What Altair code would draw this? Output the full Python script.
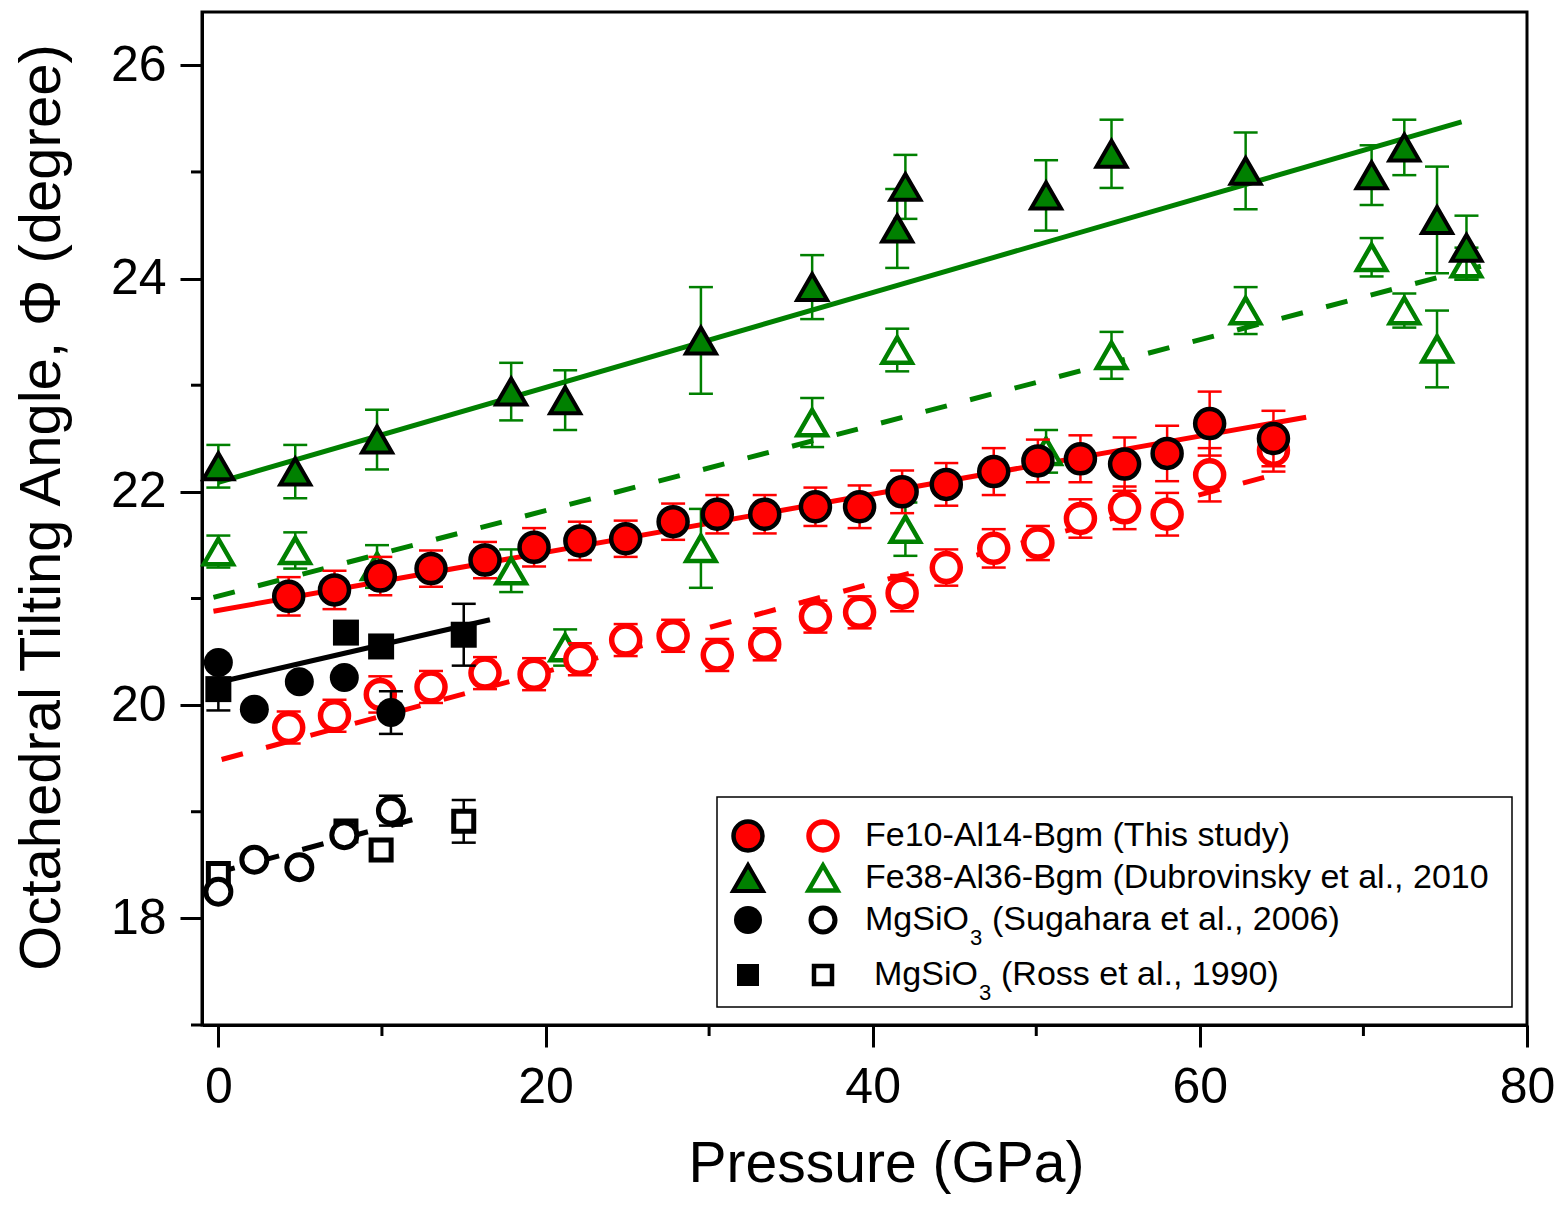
import altair as alt
import pandas as pd

FONT = "Liberation Sans, Arial, sans-serif"
RED = "#FF0000"
GREEN = "#008000"

# ---------------- data ----------------
# Fe10-Al14-Bgm (This study)
fe10_P = [4.3, 7.1, 9.9, 13.0, 16.3, 19.3, 22.1, 24.9, 27.8, 30.5, 33.4, 36.5,
          39.2, 41.8, 44.5, 47.4, 50.1, 52.7, 55.4, 58.0, 60.6, 64.5]
fe10_phi_filled = [21.02, 21.08, 21.21, 21.28, 21.36, 21.48, 21.54, 21.56, 21.72, 21.79, 21.79, 21.86,
                   21.86, 22.00, 22.07, 22.19, 22.29, 22.31, 22.26, 22.36, 22.64, 22.50]
fe10_err_filled = [0.18, 0.18, 0.18, 0.17, 0.17, 0.18, 0.18, 0.17, 0.17, 0.18, 0.18, 0.18,
                   0.20, 0.20, 0.20, 0.22, 0.20, 0.22, 0.25, 0.26, 0.30, 0.26]
fe10_phi_open = [19.79, 19.90, 20.10, 20.17, 20.30, 20.29, 20.43, 20.61, 20.65, 20.47, 20.57, 20.83,
                 20.87, 21.05, 21.29, 21.47, 21.52, 21.75, 21.85, 21.79, 22.16, 22.39]
fe10_err_open = [0.15, 0.15, 0.17, 0.15, 0.15, 0.15, 0.15, 0.15, 0.15, 0.15, 0.15, 0.15,
                 0.15, 0.17, 0.17, 0.18, 0.16, 0.18, 0.20, 0.20, 0.25, 0.20]

# Fe38-Al36-Bgm (Dubrovinsky et al., 2010)
fe38_P = [0.0, 4.7, 9.7, 17.9, 21.2, 29.5, 36.3, 41.5, 42.0, 50.6, 54.6, 62.8, 70.5, 72.5, 74.5, 76.3]
fe38_phi_filled = [22.24, 22.19, 22.49, 22.94, 22.86, 23.42, 23.92, 24.47, 24.86, 24.78, 25.17,
                   25.01, 24.97, 25.23, 24.55, 24.29]
fe38_err_filled = [0.20, 0.25, 0.28, 0.27, 0.28, 0.50, 0.30, 0.37, 0.30, 0.33, 0.32,
                   0.36, 0.28, 0.26, 0.50, 0.30]
fe38_phi_open = [21.44, 21.45, 21.30, 21.26, 20.54, 21.47, 22.65, 23.33, 21.65, 22.38, 23.28,
                 23.70, 24.20, 23.70, 23.34, 24.14]
fe38_err_open = [0.15, 0.17, 0.20, 0.20, 0.17, 0.37, 0.23, 0.20, 0.25, 0.20, 0.22,
                 0.22, 0.18, 0.16, 0.36, 0.15]

# MgSiO3 (Sugahara et al., 2006)
sug_P = [0.0, 2.2, 4.95, 7.7, 10.55]
sug_phi_filled = [20.40, 19.96, 20.22, 20.26, 19.93]
sug_err_filled = [0.0, 0.0, 0.0, 0.0, 0.20]
sug_phi_open = [18.25, 18.55, 18.48, 18.78, 19.01]
sug_err_open = [0.0, 0.0, 0.0, 0.0, 0.14]

# MgSiO3 (Ross et al., 1990)
ross_P = [0.0, 7.8, 9.95, 15.0]
ross_phi_filled = [20.15, 20.68, 20.55, 20.66]
ross_err_filled = [0.20, 0.0, 0.0, 0.29]
ross_phi_open = [18.42, 18.82, 18.64, 18.91]
ross_err_open = [0.0, 0.0, 0.0, 0.20]

# linear fits (end points)
fit_red_solid_P, fit_red_solid_phi = [-0.3, 66.5], [20.88, 22.70]
fit_red_dash_P, fit_red_dash_phi = [0.2, 64.5], [19.49, 22.16]
fit_green_solid_P, fit_green_solid_phi = [0.0, 76.0], [22.09, 25.47]
fit_green_dash_P, fit_green_dash_phi = [-0.3, 77.3], [21.01, 24.12]
fit_black_solid_P, fit_black_solid_phi = [-0.1, 16.6], [20.21, 20.80]
fit_black_dash_P, fit_black_dash_phi = [-0.3, 12.7], [18.42, 18.96]

x_ticks = [0, 20, 40, 60, 80]
x_minor = [10, 30, 50, 70]
y_ticks = [18, 20, 22, 24, 26]
y_minor = [17, 19, 21, 23, 25]

legend_labels = [
    ("Fe10-Al14-Bgm (This study)", "", ""),
    ("Fe38-Al36-Bgm (Dubrovinsky et al., 2010", "", ""),
    ("MgSiO", "3", "(Sugahara et al., 2006)"),
    ("MgSiO", "3", "(Ross et al., 1990)"),
]

# ---------------- chart ----------------
W, H = 1325, 1013
xs = alt.Scale(domain=[-1, 80], nice=False, zero=False)
ys = alt.Scale(domain=[17, 26.5], nice=False, zero=False)

common_axis = dict(grid=False, domainColor="black", domainWidth=3, tickColor="black",
                   tickWidth=3, tickSize=22, labelFont=FONT, labelColor="black",
                   labelFontSize=50, titleFont=FONT, titleColor="black",
                   titleFontWeight="normal", labelOverlap=False, labelFlush=False)
xaxis = alt.Axis(values=x_ticks, title="Pressure (GPa)", labelPadding=15,
                 titleFontSize=57, titleX=684, titleY=156, titleBaseline="alphabetic",
                 titleAlign="center", **common_axis)
yaxis = alt.Axis(values=y_ticks, title="Octahedral Tilting Angle, \u03a6 (degree)", labelPadding=14,
                 titleFontSize=58, titleAngle=270, titleX=-143, titleY=495,
                 titleBaseline="alphabetic", titleAlign="center", **common_axis)


def X(f):
    return alt.X(f"{f}:Q", scale=xs, axis=xaxis)


def Y(f):
    return alt.Y(f"{f}:Q", scale=ys, axis=yaxis)


def frame(P, phi, err):
    df = pd.DataFrame({"P": P, "phi": phi, "err": err})
    df["lo"] = df["phi"] - df["err"]
    df["hi"] = df["phi"] + df["err"]
    return df


def errbars(df, color):
    d = df[df["err"] > 0]
    base = alt.Chart(d)
    return [
        base.mark_rule(color=color, strokeWidth=2.5, opacity=1).encode(x=X("P"), y=Y("lo"), y2="hi"),
        base.mark_tick(color=color, orient="horizontal", size=24, thickness=2.5, opacity=1).encode(x=X("P"), y=Y("lo")),
        base.mark_tick(color=color, orient="horizontal", size=24, thickness=2.5, opacity=1).encode(x=X("P"), y=Y("hi")),
    ]


def pts(df, shape, size, fill, stroke, sw):
    return alt.Chart(df).mark_point(shape=shape, size=size, filled=True, fill=fill, stroke=stroke,
                                    strokeWidth=sw, opacity=1, fillOpacity=1, strokeOpacity=1
                                    ).encode(x=X("P"), y=Y("phi"))


def fit(P, phi, color, dash=None):
    df = pd.DataFrame({"P": P, "phi": phi})
    kw = dict(color=color, strokeWidth=5, opacity=1)
    if dash:
        kw["strokeDash"] = dash
    return alt.Chart(df).mark_line(**kw).encode(x=X("P"), y=Y("phi"))


red_f = frame(fe10_P, fe10_phi_filled, fe10_err_filled)
red_o = frame(fe10_P, fe10_phi_open, fe10_err_open)
grn_f = frame(fe38_P, fe38_phi_filled, fe38_err_filled)
grn_o = frame(fe38_P, fe38_phi_open, fe38_err_open)
sug_f = frame(sug_P, sug_phi_filled, sug_err_filled)
sug_o = frame(sug_P, sug_phi_open, sug_err_open)
ros_f = frame(ross_P, ross_phi_filled, ross_err_filled)
ros_o = frame(ross_P, ross_phi_open, ross_err_open)

DASH = [22, 24]
layers = []
# minor ticks
layers.append(alt.Chart(pd.DataFrame({"v": y_minor})).mark_rule(color="black", strokeWidth=3)
              .encode(y=Y("v"), x=alt.value(-11), x2=alt.value(0)))
layers.append(alt.Chart(pd.DataFrame({"v": x_minor})).mark_rule(color="black", strokeWidth=3)
              .encode(x=X("v"), y=alt.value(H), y2=alt.value(H + 11)))
# fit lines
layers += [
    fit(fit_green_solid_P, fit_green_solid_phi, GREEN),
    fit(fit_green_dash_P, fit_green_dash_phi, GREEN, DASH),
    fit(fit_red_solid_P, fit_red_solid_phi, RED),
    fit(fit_red_dash_P, fit_red_dash_phi, RED, DASH),
    fit(fit_black_solid_P, fit_black_solid_phi, "black"),
    fit(fit_black_dash_P, fit_black_dash_phi, "black", DASH),
]
# green
layers += errbars(grn_o, GREEN) + [pts(grn_o, "triangle-up", 850, "white", GREEN, 4.5)]
layers += errbars(grn_f, GREEN) + [pts(grn_f, "triangle-up", 900, GREEN, "black", 4)]
# red
layers += errbars(red_o, RED) + [pts(red_o, "circle", 784, "white", RED, 5.5)]
layers += errbars(red_f, RED) + [pts(red_f, "circle", 841, RED, "black", 4.5)]
# black
layers += errbars(ros_o, "black") + [pts(ros_o, "square", 400, "white", "black", 5)]
layers += errbars(sug_o, "black") + [pts(sug_o, "circle", 625, "white", "black", 5)]
layers += errbars(ros_f, "black") + [pts(ros_f, "square", 676, "black", "black", 0)]
layers += errbars(sug_f, "black") + [pts(sug_f, "circle", 841, "black", "black", 0)]

# legend
one = pd.DataFrame({"k": [0]})
layers.append(alt.Chart(one).mark_rect(fill="white", stroke="black", strokeWidth=1.5)
              .encode(x=alt.value(515), x2=alt.value(1310), y=alt.value(785), y2=alt.value(995)))

legend_syms = [
    (("circle", 841, RED, "black", 4.5), ("circle", 784, "white", RED, 5.5)),
    (("triangle-up", 900, GREEN, "black", 4), ("triangle-up", 850, "white", GREEN, 4.5)),
    (("circle", 784, "black", "black", 0), ("circle", 576, "white", "black", 5)),
    (("square", 484, "black", "black", 0), ("square", 324, "white", "black", 4.5)),
]
row_y = [824, 866, 908, 963]
text_x = [663, 663, 663, 672]
for (sf, so), yy, tx, (main, sub, rest) in zip(legend_syms, row_y, text_x, legend_labels):
    for (shape, size, fill, stroke, sw), xx in ((sf, 546), (so, 621)):
        layers.append(alt.Chart(one).mark_point(shape=shape, size=size, filled=True, fill=fill,
                                                stroke=stroke, strokeWidth=sw, opacity=1)
                      .encode(x=alt.value(xx), y=alt.value(yy)))
    layers.append(alt.Chart(one).mark_text(align="left", baseline="middle", font=FONT, fontSize=34,
                                           color="black")
                  .encode(x=alt.value(tx), y=alt.value(yy), text=alt.value(main)))
    if sub:
        sx = tx + 105
        layers.append(alt.Chart(one).mark_text(align="left", baseline="middle", font=FONT, fontSize=22,
                                               color="black")
                      .encode(x=alt.value(sx), y=alt.value(yy + 18), text=alt.value(sub)))
        layers.append(alt.Chart(one).mark_text(align="left", baseline="middle", font=FONT, fontSize=34,
                                               color="black")
                      .encode(x=alt.value(sx + 22), y=alt.value(yy), text=alt.value(rest)))

chart = alt.layer(*layers).properties(
    width=W, height=H,
    autosize=alt.AutoSizeParams(type="none"),
    padding={"left": 194, "top": 4, "right": 27, "bottom": 173},
).configure_view(stroke="black", strokeWidth=3)

chart.save("out.html", embed_options={"renderer": "svg", "actions": False})
